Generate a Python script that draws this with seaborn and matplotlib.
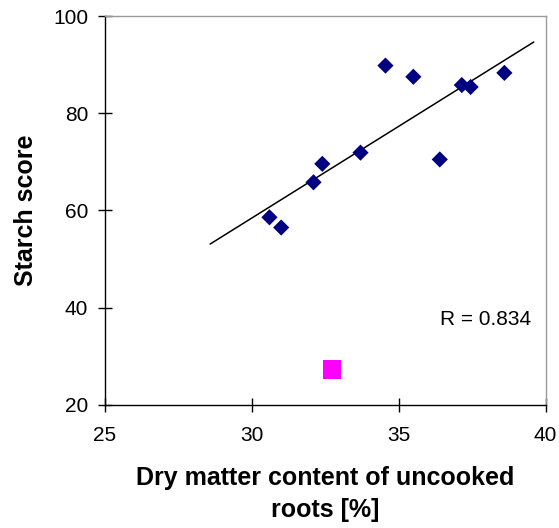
import matplotlib
matplotlib.use("Agg")
import matplotlib.pyplot as plt
import seaborn as sns
import pandas as pd

# Data
dry_matter = [30.6, 31.0, 32.1, 32.4, 33.7, 34.55, 35.5, 36.4, 37.15, 37.45, 38.6]
starch = [58.6, 56.5, 65.8, 69.6, 71.9, 89.8, 87.5, 70.5, 85.8, 85.4, 88.3]
outlier_x = [32.73]
outlier_y = [27.3]
trend_x = [28.58, 39.6]
trend_y = [53.1, 94.65]
x_ticks = [25, 30, 35, 40]
y_ticks = [20, 40, 60, 80, 100]
r_label = "R = 0.834"

sns.set_theme(style="ticks", rc={
    "text.color": "black", "axes.labelcolor": "black",
    "xtick.color": "black", "ytick.color": "black",
})
plt.rcParams['font.family'] = ['Liberation Sans', 'DejaVu Sans']

fig = plt.figure(figsize=(5.59, 5.28), dpi=100)
ax = fig.add_axes([105/559, 1-405/528, 440.5/559, 389/528])

df_main = pd.DataFrame({"x": dry_matter, "y": starch})
df_out = pd.DataFrame({"x": outlier_x, "y": outlier_y})
df_trend = pd.DataFrame({"x": trend_x, "y": trend_y})

sns.lineplot(data=df_trend, x="x", y="y", ax=ax, color="black", lw=1.1, zorder=2)
sns.scatterplot(data=df_main, x="x", y="y", ax=ax, marker="D", s=68,
                color="#000080", edgecolor="none", zorder=3)
sns.scatterplot(data=df_out, x="x", y="y", ax=ax, marker="s", s=185,
                color="#FF00FF", edgecolor="none", zorder=3)

ax.set_xlim(25, 40)
ax.set_ylim(20, 100)
ax.set_xticks(x_ticks)
ax.set_yticks(y_ticks)
ax.tick_params(axis="both", direction="inout", length=10, width=1,
               color="black", labelsize=15, pad=7, labelcolor="black")
ax.tick_params(axis="x", pad=10)

for s in ["left", "bottom"]:
    ax.spines[s].set_visible(True)
    ax.spines[s].set_color("black")
    ax.spines[s].set_linewidth(1)
for s in ["top", "right"]:
    ax.spines[s].set_visible(True)
    ax.spines[s].set_color("#999999")
    ax.spines[s].set_linewidth(1)

ax.set_xlabel("Dry matter content of uncooked\nroots [%]", fontsize=18,
              fontweight="bold", labelpad=15, linespacing=1.45)
ax.set_ylabel("Starch score", fontsize=18, fontweight="bold", labelpad=11)

ax.text(39.5, 37.5, r_label, ha="right", va="center", fontsize=15, color="black")

fig.savefig("out.png", dpi=100)
